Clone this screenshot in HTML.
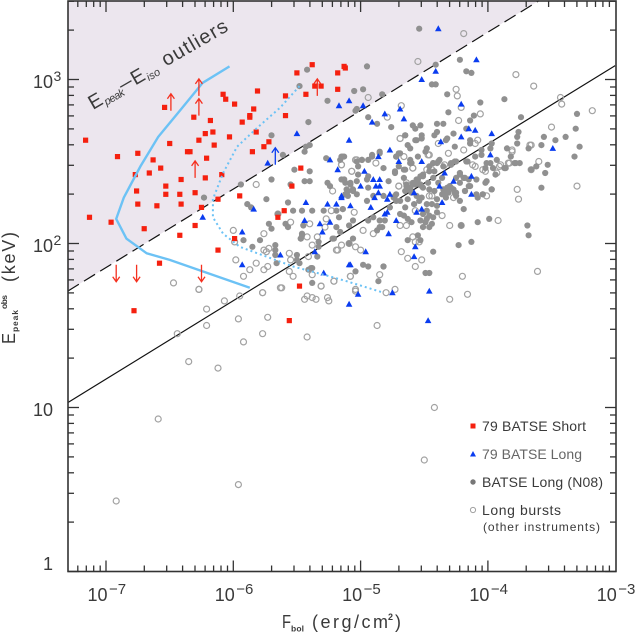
<!DOCTYPE html>
<html><head><meta charset="utf-8"><title>Epeak vs Fbol</title>
<style>
html,body{margin:0;padding:0;background:#fff;width:636px;height:635px;overflow:hidden}
svg{display:block;font-family:"Liberation Sans",sans-serif;fill:#3a3a3a}
</style></head>
<body>
<svg id="chart" width="636" height="635" viewBox="0 0 636 635" xmlns="http://www.w3.org/2000/svg">
<g id="plot"></g>
<g id="ticks"></g>
<rect x="68" y="1" width="548" height="570.5" fill="none" stroke="#333" stroke-width="1.6"/>

<g id="xlabels"></g>
<g id="ylabels"></g>

<g>
<text transform="translate(15,344) rotate(-90)" font-size="18" textLength="11" lengthAdjust="spacingAndGlyphs">E</text>
<text transform="translate(18,332) rotate(-90)" font-size="8.5" font-weight="bold" textLength="22">peak</text>
<text transform="translate(7,309) rotate(-90)" font-size="8.5" font-weight="bold" textLength="14">obs</text>
<text transform="translate(15,282) rotate(-90)" font-size="18" textLength="50">(keV)</text>
</g>
<g>
<text x="282" y="628" font-size="18" textLength="9" lengthAdjust="spacingAndGlyphs">F</text>
<text x="291" y="631.5" font-size="8.5" font-weight="bold" textLength="13">bol</text>
<text x="312" y="628" font-size="18" textLength="76">(erg/cm</text>
<text x="388" y="620" font-size="9" font-weight="bold">2</text>
<text x="395" y="628" font-size="18">)</text>
</g>

<g transform="translate(93,110) rotate(-30)">
<text x="0" y="0" font-size="20" textLength="13" lengthAdjust="spacingAndGlyphs">E</text>
<text x="14" y="3" font-size="11" font-style="italic" textLength="22">peak</text>
<text x="35" y="-1" font-size="20" textLength="13" lengthAdjust="spacingAndGlyphs">–</text>
<text x="49" y="0" font-size="20" textLength="13" lengthAdjust="spacingAndGlyphs">E</text>
<text x="63" y="3" font-size="11" font-style="italic" textLength="14">iso</text>
<text x="85" y="-1" font-size="20" textLength="73">outliers</text>
</g>

<g>
<rect x="470.5" y="423.5" width="5" height="5" fill="#f5200f"/>
<text x="482" y="431" font-size="14" textLength="104">79 BATSE Short</text>
<polygon points="473,451 476,456.5 470,456.5" fill="#0a3cf0"/>
<text x="482" y="459" font-size="14" textLength="100" fill="#666">79 BATSE Long</text>
<circle cx="473" cy="482" r="2.7" fill="#777"/>
<text x="482" y="487" font-size="14" textLength="121">BATSE Long (N08)</text>
<circle cx="473" cy="510" r="2.6" fill="none" stroke="#a0a0a0" stroke-width="1"/>
<text x="482" y="515" font-size="14" textLength="79">Long bursts</text>
<text x="483" y="531" font-size="12" textLength="117">(other instruments)</text>
</g>
</svg>
<script>
// all coordinates are [log10 Fbol, log10 Epeak]
const xTickExponents = [-7, -6, -5, -4, -3];
const yTickExponents = [0, 1, 2, 3];
const yTickLabels = ["1", "10", "10", "10"];
const yTickSups = ["", "", "2", "3"];
const boundaryLine = [[-7.3,1.71],[-3.6,3.48]];
const correlationLine = [[-7.3,1.03],[-3,3.085]];
const thresholdSolid = [[-6.03,3.08],[-6.24,2.98],[-6.42,2.81],[-6.59,2.65],[-6.73,2.47],[-6.86,2.28],[-6.92,2.15],[-6.84,2.03],[-6.68,1.94],[-6.50,1.90],[-5.87,1.73]];
const thresholdDotted = [[-5.48,2.96],[-5.63,2.83],[-5.82,2.70],[-5.97,2.59],[-6.08,2.43],[-6.16,2.27],[-6.16,2.16],[-6.08,2.06],[-5.95,1.98],[-5.74,1.92],[-5.53,1.86],[-5.29,1.81],[-5.11,1.77],[-4.82,1.70]];
const shortBursts = [[-7.16,2.63],[-7.13,2.16],[-6.96,2.13],[-6.91,2.53],[-6.75,2.55],[-6.77,2.42],[-6.76,2.32],[-6.75,2.24],[-6.70,2.09],[-6.66,2.43],[-6.63,2.51],[-6.57,2.46],[-6.53,2.35],[-6.53,2.30],[-6.60,2.23],[-6.50,2.61],[-6.54,2.83],[-6.42,2.30],[-6.41,2.24],[-6.41,2.39],[-6.42,2.05],[-6.36,2.56],[-6.34,2.56],[-6.30,2.31],[-6.30,2.11],[-6.31,2.77],[-6.27,2.63],[-6.22,2.67],[-6.16,2.68],[-6.18,2.75],[-6.15,2.60],[-6.21,2.52],[-6.22,2.40],[-6.25,2.22],[-6.12,2.27],[-6.09,2.42],[-6.03,2.65],[-6.08,2.91],[-6.06,2.88],[-5.99,2.85],[-5.93,2.74],[-5.87,2.77],[-5.87,2.78],[-5.84,2.82],[-5.81,2.93],[-5.82,2.68],[-5.85,2.56],[-5.76,2.59],[-5.72,2.62],[-5.59,2.90],[-5.59,2.78],[-5.50,3.04],[-5.38,3.09],[-5.43,2.91],[-5.36,2.96],[-5.31,2.96],[-5.18,3.04],[-5.13,3.08],[-5.12,3.07],[-5.18,2.94],[-5.47,2.46],[-5.54,2.35],[-5.95,2.29],[-5.60,2.20],[-5.65,2.16],[-5.99,2.03],[-6.12,1.96],[-6.58,1.88],[-5.48,1.74],[-6.78,1.59],[-5.56,1.53]];
const longBlue = [[-6.24,2.16],[-5.73,2.49],[-5.50,2.67],[-5.17,2.84],[-5.09,2.87],[-5.84,2.21],[-5.93,2.07],[-5.93,1.87],[-5.43,2.25],[-5.44,2.14],[-5.32,2.12],[-5.24,2.13],[-5.26,2.24],[-5.19,2.24],[-5.15,2.28],[-5.30,2.07],[-5.36,1.95],[-5.63,1.93],[-5.29,1.82],[-5.24,2.51],[-5.18,2.45],[-5.09,2.63],[-5.09,1.87],
[-4.39,3.31],[-4.09,3.12],[-4.41,3.05],[-4.52,3.00],[-4.98,2.84],[-4.69,2.82],[-4.81,2.79],[-4.91,2.74],[-4.66,2.76],[-4.21,2.85],[-4.15,2.70],[-4.10,2.69],[-4.21,2.65],[-3.97,2.67],[-4.37,2.62],[-4.77,2.57],[-4.86,2.53],[-4.70,2.50],[-4.52,2.50],[-3.98,2.54],[-3.49,2.58],[-4.97,2.44],[-4.34,2.43],[-4.13,2.41],[-4.27,2.38],[-4.85,2.39],[-4.90,2.39],[-5.00,2.35],[-4.88,2.35],[-4.85,2.35],[-4.38,2.35],[-4.86,2.31],[-4.58,2.31],[-4.77,2.30],[-4.13,2.30],[-5.15,2.29],[-4.89,2.28],
[-5.08,1.87],[-5.02,1.69],[-5.09,1.63],[-4.96,1.95],[-5.08,2.23],[-4.92,2.22],[-4.81,2.18],[-4.79,2.19],[-4.79,2.27],[-4.78,2.06],[-4.36,2.25],[-4.52,2.21],[-4.56,2.19],[-4.72,2.14],[-4.57,1.98],[-4.58,1.92],[-4.46,1.71],[-4.47,1.53],[-4.75,1.70]];
const longGray = [[-5.42,3.06],[-5.48,2.96],[-5.26,2.87],[-5.41,2.74],[-5.70,2.66],[-5.61,2.54],[-5.44,2.56],[-5.43,2.59],[-5.40,2.60],[-6.23,2.28],[-5.94,2.36],[-5.70,2.39],[-5.52,2.45],[-5.40,2.44],[-5.27,2.52],[-5.15,2.53],[-5.13,2.53],[-5.44,2.38],[-5.40,2.38],[-5.55,2.36],[-5.26,2.37],[-5.24,2.35],[-5.15,2.39],[-5.12,2.37],[-5.74,2.27],[-5.57,2.25],[-5.89,2.24],[-5.86,2.22],[-5.65,2.18],[-5.53,2.20],[-5.46,2.20],[-5.38,2.20],[-5.29,2.20],[-5.19,2.20],[-5.14,2.21],[-5.72,2.12],[-5.70,2.09],[-5.59,2.12],[-5.57,2.10],[-5.46,2.06],[-5.47,2.03],[-5.21,2.03],[-5.79,2.02],[-5.92,2.02],[-5.85,1.98],[-5.67,1.99],[-5.67,1.96],[-5.67,1.93],[-5.66,1.88],[-5.50,1.93],[-5.50,1.90],[-5.48,1.88],[-5.38,1.76],[-5.39,1.85],
[-4.54,3.31],[-4.41,3.09],[-4.22,3.12],[-4.17,3.05],[-4.13,3.04],[-4.44,2.97],[-4.41,2.97],[-4.32,2.91],[-4.06,2.86],[-3.87,2.88],[-5.05,2.93],[-4.98,2.94],[-4.83,2.91],[-4.95,3.08],[-5.04,2.81],[-5.03,2.82],[-4.31,2.80],[-4.11,2.78],[-4.14,2.75],[-3.74,2.77],[-3.30,2.79],[-3.31,2.70],[-4.94,2.77],[-4.87,2.73],[-4.76,2.71],[-4.59,2.72],[-4.57,2.70],[-4.53,2.72],[-4.40,2.73],[-4.35,2.73],[-4.42,2.66],[-4.40,2.68],[-4.52,2.66],[-4.52,2.64],[-4.65,2.66],[-4.57,2.63],[-4.27,2.67],[-4.32,2.64],[-4.17,2.70],[-4.14,2.63],[-4.14,2.61],[-3.76,2.68],[-3.77,2.65],[-3.77,2.61],[-4.26,2.59],[-4.63,2.60],[-4.61,2.58],[-4.48,2.58],[-4.49,2.56],[-3.97,2.61],[-3.98,2.58],[-4.05,2.57],[-4.05,2.54],[-4.10,2.53],[-3.85,2.58],[-3.68,2.58],[-3.58,2.60],[-3.56,2.65],[-3.47,2.63],[-3.39,2.65],[-3.28,2.59],[-3.32,2.53],[-3.53,2.48],[-3.62,2.47],[-3.66,2.45],[-3.55,2.43],[-3.58,2.34],[-3.82,2.53],[-3.86,2.46],[-3.93,2.51],[-3.78,2.49],[-3.75,2.49],[-4.01,2.49],[-3.98,2.49],[-3.96,2.46],[-4.16,2.50],[-4.26,2.50],[-4.29,2.48],[-4.38,2.51],[-4.40,2.49],[-4.55,2.53],[-4.61,2.51],[-4.60,2.49],[-4.70,2.55],[-4.72,2.53],[-4.85,2.55],[-4.91,2.54],[-4.94,2.51],[-4.99,2.51],[-5.03,2.50],[-5.02,2.47],[-5.14,2.53],[-5.16,2.51],[-4.82,2.46],[-4.66,2.45],[-4.73,2.43],[-4.78,2.38],[-5.02,2.42],[-4.94,2.41],[-4.95,2.39],[-5.13,2.39],[-5.08,2.37],[-5.06,2.33],[-4.94,2.34],[-5.10,2.32],[-5.12,2.30],[-4.22,2.43],[-4.19,2.40],[-4.15,2.39],[-4.43,2.49],[-4.46,2.47],[-4.42,2.44],[-4.53,2.41],[-4.55,2.39],[-4.51,2.42],[-4.59,2.37],[-4.57,2.36],[-4.53,2.36],[-4.51,2.34],[-4.61,2.33],[-4.64,2.35],[-4.65,2.32],[-4.72,2.30],[-4.74,2.28],[-4.35,2.33],[-4.32,2.31],[-4.29,2.34],[-4.26,2.31],[-4.25,2.29],[-4.18,2.32],[-4.14,2.35],[-4.02,2.37],[-3.97,2.33],[-4.09,2.30],[-4.04,2.30],[-4.22,2.37],[-4.25,2.40],[-4.82,2.29],[-4.90,2.29],
[-4.65,2.66],[-4.56,2.63],[-4.33,2.63],[-4.56,2.29],[-4.52,2.28],[-4.46,2.33],[-4.40,2.27],[-4.64,2.36],[-4.61,2.34],[-4.59,2.36],[-4.55,2.37],[-4.52,2.35],[-4.51,2.41],[-4.56,2.39],[-4.66,2.40],[-4.73,2.44],[-4.70,2.47],[-4.61,2.49],[-4.65,2.45],[-4.72,2.53],[-4.69,2.55],[-4.43,2.49],[-4.39,2.50],[-4.35,2.47],[-4.29,2.49],[-4.25,2.50],[-4.17,2.50],[-4.22,2.42],[-4.18,2.40],[-4.09,2.39],[-4.01,2.38],[-3.94,2.42],[-4.02,2.46],[-3.87,2.46],[-3.79,2.49],[-4.32,2.34],[-4.30,2.35],[-4.27,2.33],[-4.25,2.31],[-4.31,2.31],[-4.18,2.32],[-4.15,2.35],[-4.22,2.26],[-4.19,2.21],[-4.08,2.28],[-4.04,2.30],[-3.97,2.33],[-4.51,2.18],[-4.48,2.15],[-4.46,2.17],[-4.43,2.16],[-4.51,2.10],[-4.46,2.10],[-4.40,2.19],[-4.69,2.18],[-4.65,2.22],[-4.73,2.29],[-4.72,2.26],[-4.77,2.22],[-4.69,2.26],[-4.66,2.17],[-4.63,2.15],[-4.60,2.13],[-4.81,2.14],[-4.85,2.10],[-4.63,2.02],[-4.55,2.05],[-4.53,2.02],[-4.21,2.11],[-4.08,2.13],[-3.99,2.15],[-4.23,1.99],[-4.13,2.01],[-3.69,2.11],[-3.68,2.05],[-4.43,1.95],[-4.49,1.82],[-4.46,1.82],[-4.82,1.86],
[-5.13,2.39],[-5.08,2.36],[-5.03,2.38],[-4.99,2.51],[-4.91,2.53],[-4.85,2.56],[-4.95,2.26],[-5.03,2.30],[-5.10,2.29],[-5.11,2.33],[-5.06,2.32],[-5.14,2.21],[-5.17,2.16],[-5.19,2.10],[-5.16,2.07],[-5.22,2.03],[-5.09,2.11],[-5.06,2.14],[-5.06,2.03],[-5.09,2.00],[-4.94,2.14],[-4.90,2.16],[-4.85,2.14],[-4.83,2.10],[-4.87,2.08],[-5.45,2.11],[-5.46,2.05],[-5.47,2.03],[-5.33,2.01],[-5.33,1.98],[-5.34,1.92],[-5.38,1.85],[-5.41,1.84],[-4.98,1.87],[-4.94,1.86],[-4.82,1.86],[-5.04,1.83],[-4.86,1.77],
[-4.60,2.31],[-4.63,2.27],[-4.58,2.24],[-4.54,2.26],[-4.48,2.24],[-4.44,2.24],[-4.40,2.23],[-4.36,2.30],[-4.33,2.28],[-4.47,2.37],[-4.43,2.40],[-4.39,2.37],[-4.36,2.40],[-4.46,2.44],[-4.42,2.32],[-4.48,2.20],[-4.44,2.12],[-4.49,2.13],[-4.53,2.14]];
const longOpen = [[-5.82,2.36],[-6.00,2.08],[-5.99,2.01],[-5.76,2.06],[-5.98,1.90],[-5.87,1.84],[-5.82,1.88],[-5.76,1.84],[-5.73,1.86],[-5.76,1.96],[-5.72,1.97],[-5.74,1.95],[-5.92,1.80],[-5.65,2.18],[-5.55,2.13],[-5.56,1.94],[-5.55,1.90],[-5.41,1.92],[-5.38,1.99],[-5.42,2.04],[-5.34,2.04],[-5.40,2.12],[-5.28,2.10],[-5.27,2.15],[-5.23,2.20],[-5.05,2.19],[-5.22,2.32],[-5.15,2.48],[-5.07,2.44],[-5.03,2.51],[-5.56,1.83],[-5.53,1.80],[-5.38,1.81],[-5.21,1.77],[-5.31,1.74],[-5.08,1.80],[-5.63,1.73],[-5.77,1.70],[-5.95,1.68],[-6.07,1.65],[-6.27,1.72],[-5.44,1.66],[-5.42,1.68],[-5.38,1.67],[-5.35,1.66],[-5.26,1.67],[-5.25,1.65],[-6.21,1.60],[-5.96,1.54],[-5.73,1.55],[-6.21,1.50],[-4.87,1.50],[-5.19,1.96],[-5.15,1.99],[-5.18,1.96],[-5.09,2.00],[-5.04,1.98],[-5.00,1.96],[-4.98,2.08],[-4.90,2.06],[-4.85,1.81],[-5.04,1.71],[-4.80,1.70],
[-4.19,3.28],[-4.55,3.11],[-3.78,3.03],[-3.64,2.96],[-4.25,2.94],[-4.24,2.90],[-4.94,2.89],[-4.21,2.83],[-4.06,2.79],[-3.43,2.89],[-3.42,2.85],[-3.18,2.81],[-4.79,2.77],[-4.68,2.84],[-4.23,2.75],[-3.50,2.71],[-4.69,2.64],[-4.39,2.61],[-4.19,2.57],[-4.31,2.55],[-4.10,2.61],[-4.08,2.63],[-4.47,2.54],[-3.66,2.60],[-3.81,2.56],[-3.60,2.50],[-4.12,2.48],[-3.84,2.49],[-3.90,2.48],[-4.04,2.45],[-4.02,2.44],[-3.93,2.43],[-3.66,2.45],[-4.34,2.48],[-4.59,2.46],[-4.66,2.53],[-4.88,2.49],[-5.07,2.44],[-5.04,2.51],[-5.15,2.48],[-4.70,2.35],[-3.30,2.35],[-3.77,2.33],[-3.76,2.27],[-4.46,2.29],[-4.64,2.37],[-4.48,2.45],[-4.44,2.45],[-4.01,2.29],
[-3.92,2.14],[-4.30,2.11],[-4.21,2.11],[-4.59,2.04],[-4.54,2.01],[-4.57,2.01],[-4.68,1.95],[-4.63,1.91],[-4.57,1.86],[-4.52,1.90],[-4.20,1.80],[-3.61,1.83],[-4.16,1.69],[-4.30,1.66],[-4.73,1.72],[-4.69,2.11],[-4.64,2.11],[-4.57,2.20],[-4.36,2.17],[-4.44,2.29],[-4.27,2.28],[-4.70,2.35],[-4.59,2.46],[-4.69,2.64],[-4.46,2.54],[-4.10,2.47],[-3.91,2.47],[-3.83,2.49],[-3.67,2.60],[-3.81,2.57],
[-6.47,1.76],[-6.27,1.72],[-6.35,1.28],[-6.12,1.24],[-6.44,1.45],[-5.92,1.40],[-5.77,1.45],[-5.42,1.43],[-5.77,1.70],[-5.62,1.73],[-6.59,0.93],[-6.92,0.43],[-5.96,0.53],[-5.04,1.72],[-5.31,1.74],[-5.21,1.77],[-5.08,1.80],[-4.42,1.00],[-4.50,0.68]];
const upperLimitsShort = [[-6.49,2.81],[-6.27,2.90],[-6.27,2.78],[-6.30,2.40],[-5.34,2.90]];
const upperLimitsLong = [[-5.67,2.48]];
const downLimitsShort = [[-6.92,1.87],[-6.76,1.87],[-6.25,1.87]];

const NS = "http://www.w3.org/2000/svg";
const plot = document.getElementById("plot");
const ticksG = document.getElementById("ticks");
function sx(logF){ return 106 + (logF + 7) * 127.3; }
function sy(logE){ return 571.5 - logE * 164; }
function mk(tag, parent, attrs){
  const el = document.createElementNS(NS, tag);
  for (const k in attrs) el.setAttribute(k, attrs[k]);
  parent.appendChild(el);
  return el;
}
function pathOf(points){
  return points.map(function(p, i){ return (i ? "L" : "M") + sx(p[0]).toFixed(1) + " " + sy(p[1]).toFixed(1); }).join(" ");
}

// shaded outlier region above the boundary line
const shade = mk("path", plot, {d: pathOf(boundaryLine) + " L" + sx(-7.3) + " " + sy(3.48) + " Z", fill: "#ece6ee"});



const boundary = mk("path", plot, {d: pathOf(boundaryLine), fill: "none", stroke: "#111", "stroke-width": 1.2, "stroke-dasharray": "13 6"});


const corr = mk("path", plot, {d: pathOf(correlationLine), fill: "none", stroke: "#111", "stroke-width": 1.2});



longOpen.forEach(function(p){
  const el = mk("circle", plot, {cx: sx(p[0]).toFixed(1), cy: sy(p[1]).toFixed(1), r: 3, fill: "none", stroke: "#a2a2a2", "stroke-width": 1.2});
  
  
});
longGray.forEach(function(p){
  const el = mk("circle", plot, {cx: sx(p[0]).toFixed(1), cy: sy(p[1]).toFixed(1), r: 3.1, fill: "#909090"});
  
  
});
longBlue.forEach(function(p){
  const x = sx(p[0]), y = sy(p[1]);
  const el = mk("polygon", plot, {points: x.toFixed(1) + "," + (y - 3.4).toFixed(1) + " " + (x + 3.3).toFixed(1) + "," + (y + 2.5).toFixed(1) + " " + (x - 3.3).toFixed(1) + "," + (y + 2.5).toFixed(1), fill: "#0a3cf0"});
  
  
});
shortBursts.forEach(function(p){
  const el = mk("rect", plot, {x: (sx(p[0]) - 2.6).toFixed(1), y: (sy(p[1]) - 2.6).toFixed(1), width: 5.2, height: 5.2, fill: "#f5200f"});
  
  
});

const solidCurve = mk("path", plot, {d: pathOf(thresholdSolid), fill: "none", stroke: "#6cc2f5", "stroke-width": 2.4});


const dottedCurve = mk("path", plot, {d: pathOf(thresholdDotted), fill: "none", stroke: "#6cc2f5", "stroke-width": 2, "stroke-dasharray": "2 3"});



function arrow(p, dir, color){
  const x = sx(p[0]), y = sy(p[1]), tip = y + dir * 17;
  return mk("path", plot, {d: "M" + x.toFixed(1) + " " + y.toFixed(1) + " L" + x.toFixed(1) + " " + tip.toFixed(1) + " M" + (x - 3.5).toFixed(1) + " " + (tip - dir * 5).toFixed(1) + " L" + x.toFixed(1) + " " + tip.toFixed(1) + " L" + (x + 3.5).toFixed(1) + " " + (tip - dir * 5).toFixed(1), fill: "none", stroke: color, "stroke-width": 1.3});
}
upperLimitsShort.forEach(function(p){
  const el = arrow(p, -1, "#f5301f");
  
  
});
upperLimitsLong.forEach(function(p){
  const el = arrow(p, -1, "#0a3cf0");
  
  
});
downLimitsShort.forEach(function(p){
  const el = arrow(p, 1, "#f5301f");
  
  
});

// ticks
function tick(x1, y1, x2, y2){
  const el = mk("line", ticksG, {x1: x1.toFixed(1), y1: y1.toFixed(1), x2: x2.toFixed(1), y2: y2.toFixed(1), stroke: "#333", "stroke-width": 1.3});
  
  
}
for (let d = -8; d <= -4; d++) {
  for (let m = 1; m <= 9; m++) {
    const v = d + Math.log10(m);
    if (v < -7.3 || v > -3) continue;
    const len = m === 1 ? 11 : 6, x = sx(v);
    tick(x, 571.5, x, 571.5 - len);
    tick(x, 1, x, 1 + len);
  }
}
for (let d = 0; d <= 3; d++) {
  for (let m = 1; m <= 9; m++) {
    const v = d + Math.log10(m);
    if (v > 3.48) continue;
    const len = m === 1 ? 11 : 6, y = sy(v);
    tick(68, y, 68 + len, y);
    tick(616, y, 616 - len, y);
  }
}

// tick labels
const xl = document.getElementById("xlabels");
xTickExponents.forEach(function(e){
  const x = sx(e);
  const t = mk("text", xl, {x: (x - 18.5).toFixed(1), y: 601, "font-size": 18});
  
  
  t.textContent = "10";
  const s = mk("text", xl, {x: (x + 3).toFixed(1), y: 594, "font-size": 15});
  
  
  s.textContent = "\u2212" + Math.abs(e);
});
const yl = document.getElementById("ylabels");
yTickExponents.forEach(function(e, i){
  const y = sy(e);
  const base = e === 0 ? y - 1.5 : y + 8.5;
  const t = mk("text", yl, {x: 53, y: base.toFixed(1), "font-size": 18, "text-anchor": "end"});
  
  
  t.textContent = yTickLabels[i];
  if (yTickSups[i]) {
    const s = mk("text", yl, {x: 53.5, y: (base - 7).toFixed(1), "font-size": 14});
    
    
    s.textContent = yTickSups[i];
  }
});
</script>
</body></html>
